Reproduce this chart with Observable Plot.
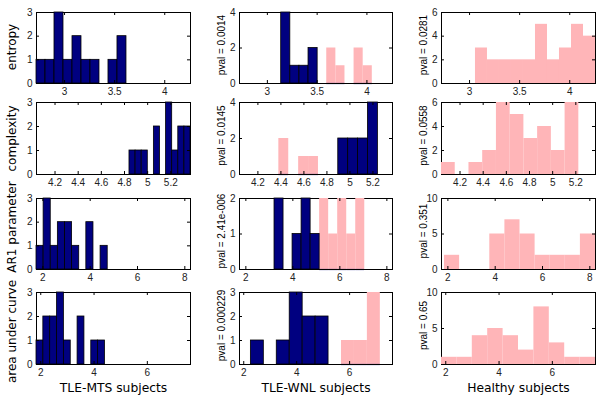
<!DOCTYPE html>
<html><head><meta charset="utf-8">
<script src="https://cdn.jsdelivr.net/npm/d3@7"></script>
<script src="https://cdn.jsdelivr.net/npm/@observablehq/plot@0.6"></script>
<style>
body{margin:0;background:#fff;}
#fig{position:relative;width:604px;height:400px;overflow:hidden;background:#fff;}
#fig svg{position:absolute;background:none;overflow:visible;max-width:none;}
</style></head><body><div id="fig"></div>
<script>
// ---- data ----
const rowLabels = ["entropy", "complexity", "AR1 parameter", "area under curve"];
const colLabels = ["TLE-MTS subjects", "TLE-WNL subjects", "Healthy subjects"];
const xDomains = [[2.72, 4.257], [4.04, 5.37], [1.73, 8.24], [1.84, 7.62]];
const xTicks = [[3, 3.5, 4], [4.2, 4.4, 4.6, 4.8, 5, 5.2], [2, 4, 6, 8], [2, 4, 6]];
const yMax = [[3, 4, 6], [3, 4, 6], [3, 2, 10], [3, 3, 10]];
const yTicks = [
  [[0, 1, 2, 3], [0, 2, 4], [0, 2, 4, 6]],
  [[0, 1, 2, 3], [0, 2, 4], [0, 2, 4, 6]],
  [[0, 1, 2, 3], [0, 1, 2], [0, 5, 10]],
  [[0, 1, 2, 3], [0, 1, 2, 3], [0, 5, 10]]
];
const pvalWNL = ["0.0014", "0.0145", "2.41e-006", "0.000229"];
const pvalHealthy = ["0.0281", "0.0558", "0.351", "0.65"];

// TLE-MTS histograms (10 bins between min and max)
const mtsRange = [[2.72, 3.618], [4.843, 5.37], [1.73, 4.74], [1.84, 4.41]];
const mtsCounts = [
  [1, 1, 3, 1, 2, 1, 1, 0, 1, 2],
  [1, 1, 1, 0, 2, 0, 3, 1, 2, 2],
  [1, 3, 1, 2, 2, 1, 0, 2, 0, 1],
  [1, 2, 2, 3, 1, 0, 2, 0, 1, 1]
];
// TLE-WNL histograms: navy part and pink part on the same 10 bins
const wnlRange = [[3.139, 4.054], [4.382, 5.243], [3.22, 7.06], [2.27, 7.16]];
const wnlNavy = [
  [4, 1, 1, 2, 0, 0, 0, 0, 0, 0],
  [0, 0, 0, 0, 0, 0, 2, 2, 2, 4],
  [2, 0, 1, 2, 1, 0, 0, 0, 0, 0],
  [1, 0, 1, 3, 2, 2, 0, 0, 0, 0]
];
const wnlPink = [
  [0, 0, 0, 0, 0, 2, 1, 0, 2, 1],
  [2, 0, 1, 1, 0, 0, 0, 0, 0, 0],
  [0, 0, 0, 0, 0, 2, 1, 2, 1, 2],
  [0, 0, 0, 0, 0, 0, 0, 1, 1, 3]
];
// Healthy histograms
const healthyRange = [[3.059, 4.257], [4.04, 5.226], [1.857, 8.24], [1.84, 7.62]];
const healthyCounts = [
  [3, 2, 2, 2, 2, 5, 2, 3, 5, 4],
  [1, 0, 1, 2, 6, 5, 3, 4, 2, 6],
  [2, 0, 0, 5, 7, 5, 2, 2, 2, 5],
  [1, 1, 4, 5, 4, 2, 8, 3, 1, 1]
];

// ---- layout (axes boxes in page pixels) ----
const colX = [[36, 190], [239, 392], [441, 595]];
const rowY = [[12, 83], [102, 174], [198, 269], [292, 364]];
const rowLabelShift = [-1, 0, -7, 3];
const NAVY = "#000080", PINK = "#ffb5b8";
const TICKFONT = "Liberation Sans, Arial, sans-serif";
const LABELFONT = "DejaVu Sans, Verdana, sans-serif";

function bins([lo, hi], counts) {
  const w = (hi - lo) / counts.length;
  return counts.map((c, i) => ({x1: lo + i * w, x2: lo + (i + 1) * w, y: c})).filter(d => d.y > 0);
}

const fig = document.getElementById("fig");
for (let r = 0; r < 4; r++) {
  for (let c = 0; c < 3; c++) {
    const [fx0, fx1] = colX[c], [fy0, fy1] = rowY[r];
    const fw = fx1 - fx0, fh = fy1 - fy0;
    const mL = 36, mR = 8, mT = 6, mB = r === 3 ? 34 : 18;
    const xt = xTicks[r], yt = yTicks[r][c];
    const marks = [Plot.frame({stroke: "#000"})];
    if (c === 0) {
      marks.push(Plot.rectY(bins(mtsRange[r], mtsCounts[r]), {x1: "x1", x2: "x2", y: "y", fill: NAVY, stroke: "#000", strokeWidth: 0.8}));
    } else if (c === 1) {
      const pb = bins(wnlRange[r], wnlPink[r]);
      marks.push(Plot.rectY(pb, {x1: "x1", x2: "x2", y: "y", fill: PINK}));
      marks.push(Plot.rectY(bins(wnlRange[r], wnlNavy[r]), {x1: "x1", x2: "x2", y: "y", fill: NAVY, stroke: "#000", strokeWidth: 0.8}));
      marks.push(Plot.ruleY(pb, {x1: "x1", x2: "x2", y: 0, stroke: NAVY, strokeWidth: 1.2}));
    } else {
      marks.push(Plot.rectY(bins(healthyRange[r], healthyCounts[r]), {x1: "x1", x2: "x2", y: "y", fill: PINK}));
    }
    marks.push(Plot.ruleY([0], {stroke: "#000"}));
    // inward tick marks on all four sides
    marks.push(Plot.tickX(xt, {x: d => d, insetTop: fh - 3, stroke: "#000"}));
    marks.push(Plot.tickX(xt, {x: d => d, insetBottom: fh - 3, stroke: "#000"}));
    marks.push(Plot.tickY(yt, {y: d => d, insetRight: fw - 3, stroke: "#000"}));
    marks.push(Plot.tickY(yt, {y: d => d, insetLeft: fw - 3, stroke: "#000"}));
    marks.push(Plot.axisX({ticks: xt, tickSize: 0, tickPadding: 4, fontSize: 10, fontFamily: TICKFONT, label: null, tickFormat: d => `${d}`, color: "#222"}));
    marks.push(Plot.axisY({ticks: yt, tickSize: 0, tickPadding: 4, fontSize: 10, fontFamily: TICKFONT, label: null, tickFormat: d => `${d}`, color: "#222"}));
    if (c === 0) {
      marks.push(Plot.text([rowLabels[r]], {text: d => d, frameAnchor: "left", textAnchor: "middle", lineAnchor: "middle", rotate: -90, dx: -24, dy: rowLabelShift[r], fontSize: 12, fontFamily: LABELFONT, fill: "#000"}));
    } else {
      const pv = c === 1 ? pvalWNL[r] : pvalHealthy[r];
      marks.push(Plot.text([`pval = ${pv}`], {text: d => d, frameAnchor: "left", textAnchor: "middle", lineAnchor: "middle", rotate: -90, dx: -18, dy: -3, fontSize: 10, fontFamily: TICKFONT, fill: "#000"}));
    }
    if (r === 3) {
      marks.push(Plot.text([colLabels[c]], {text: d => d, frameAnchor: "bottom", textAnchor: "middle", lineAnchor: "middle", dy: 24, fontSize: 12.3, fontFamily: LABELFONT, fill: "#000"}));
    }
    const svg = Plot.plot({
      width: fw + mL + mR, height: fh + mT + mB,
      marginLeft: mL, marginRight: mR, marginTop: mT, marginBottom: mB,
      x: {domain: xDomains[r]},
      y: {domain: [0, yMax[r][c]]},
      style: {background: "none", overflow: "visible"},
      marks
    });
    svg.style.left = (fx0 - mL) + "px";
    svg.style.top = (fy0 - mT) + "px";
    fig.appendChild(svg);
  }
}
</script></body></html>
